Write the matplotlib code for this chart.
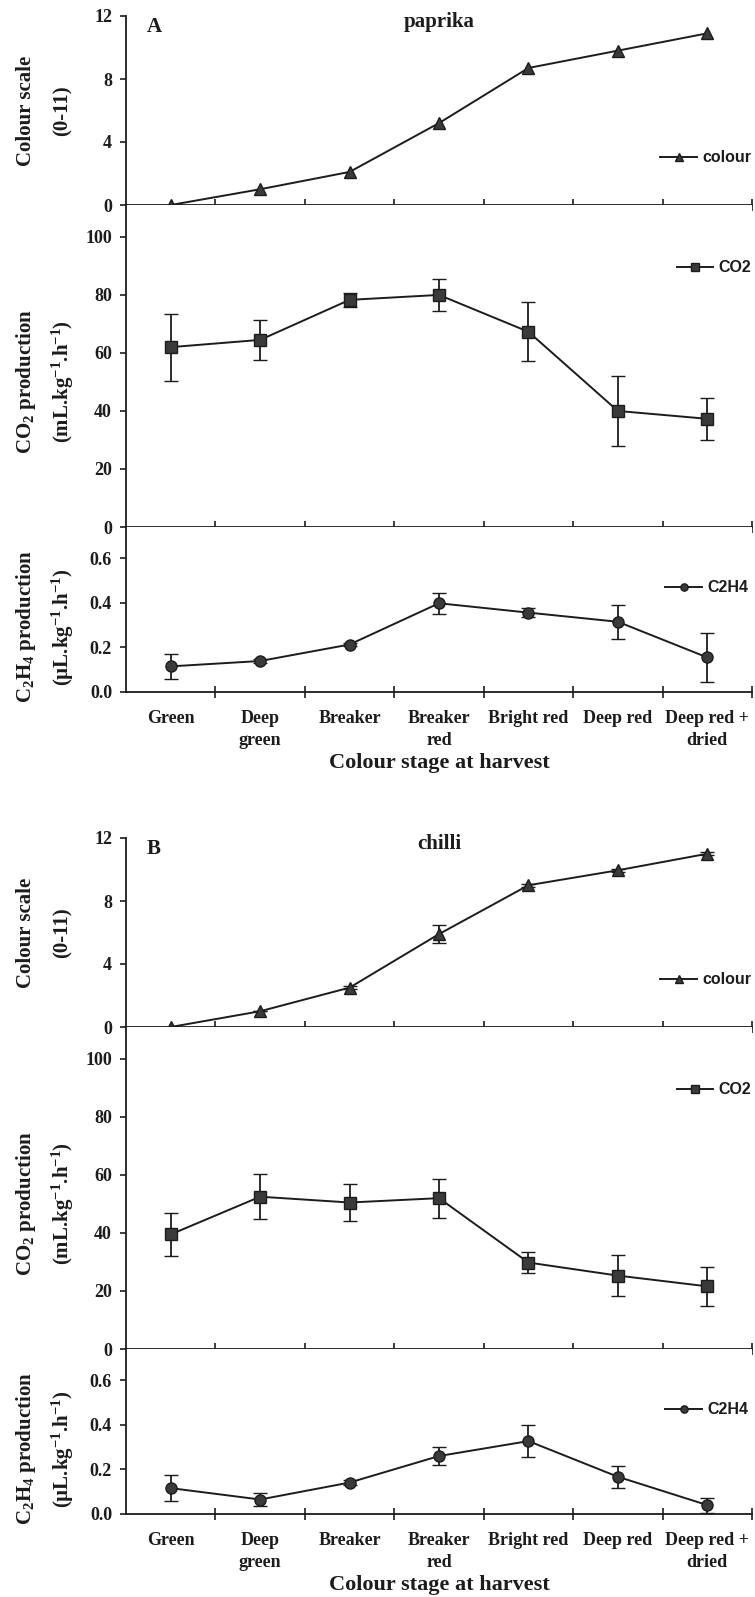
import numpy as np
import matplotlib
matplotlib.use('Agg')
import matplotlib.pyplot as plt
from matplotlib.lines import Line2D

stages = ['Green', 'Deep\ngreen', 'Breaker', 'Breaker\nred', 'Bright red',
          'Deep red', 'Deep red +\ndried']

# paprika
paprika_colour = [0.0, 1.0, 2.1, 5.2, 8.7, 9.8, 10.9]
paprika_co2 = [62.0, 64.5, 78.3, 80.0, 67.3, 40.0, 37.3]
paprika_co2_err = [11.5, 7.0, 2.5, 5.6, 10.2, 12.1, 7.3]
paprika_c2h4 = [0.115, 0.139, 0.213, 0.398, 0.356, 0.315, 0.155]
paprika_c2h4_err = [0.057, 0.010, 0.005, 0.048, 0.020, 0.077, 0.110]

# chilli
chilli_colour = [0.0, 1.0, 2.5, 5.9, 9.0, 9.95, 11.0]
chilli_colour_err = [0.0, 0.0, 0.1, 0.55, 0.1, 0.1, 0.1]
chilli_co2 = [39.5, 52.5, 50.5, 52.0, 29.8, 25.3, 21.6]
chilli_co2_err = [7.5, 7.8, 6.3, 6.7, 3.7, 7.0, 6.7]
chilli_c2h4 = [0.116, 0.065, 0.141, 0.260, 0.327, 0.167, 0.040]
chilli_c2h4_err = [0.057, 0.027, 0.010, 0.039, 0.070, 0.050, 0.034]

W, H = 755, 1597
INK = '#1c1c1c'
SERIF = 'Liberation Serif'
SANS = 'Liberation Sans'

plt.rcParams['mathtext.fontset'] = 'custom'
plt.rcParams['mathtext.rm'] = 'Liberation Serif:bold'
plt.rcParams['mathtext.it'] = 'Liberation Serif:bold'
plt.rcParams['mathtext.bf'] = 'Liberation Serif:bold'
plt.rcParams['mathtext.default'] = 'rm'

fig = plt.figure(figsize=(W / 100, H / 100), dpi=100)
x = np.arange(len(stages)) + 0.5


def rect(top, bot, left=126, right=752):
    return [left / W, 1 - bot / H, (right - left) / W, (bot - top) / H]


def fx(px):
    return px / W


def fy(py):
    return 1 - py / H


def ylabel(lines, yc):
    # two-line rotated label, each line placed on its own
    for xc, s in zip((26, 63), lines):
        fig.text(fx(xc), fy(yc), s, rotation=90, ha='center', va='center',
                 fontfamily=SERIF, fontweight='bold', fontsize=15, color=INK)


def style_axis(ax, ylim, yticks, yfmt, show_labels):
    ax.set_xlim(0, 7)
    ax.set_ylim(*ylim)
    for s in ['top', 'right']:
        ax.spines[s].set_visible(False)
    for s in ['left', 'bottom']:
        ax.spines[s].set_color(INK)
        ax.spines[s].set_linewidth(1.3)
    ax.set_xticks(np.arange(1, 8))
    ax.set_xticklabels([])
    ax.tick_params(axis='x', which='major', direction='inout', length=9,
                   width=1.2, color=INK)
    ax.set_yticks(yticks)
    ax.set_yticklabels([yfmt.format(v) for v in yticks], fontfamily=SERIF,
                       fontweight='bold', fontsize=13, color=INK)
    ax.tick_params(axis='y', direction='out', length=4, width=1.2, color=INK,
                   pad=6)
    if show_labels:
        ax.set_xticks(x, minor=True)
        ax.set_xticklabels(stages, minor=True, fontfamily=SERIF,
                           fontweight='bold', fontsize=13, color=INK,
                           linespacing=1.4, va='top')
        ax.tick_params(axis='x', which='minor', length=0, pad=13)
        ax.set_xlabel('Colour stage at harvest', fontfamily=SERIF,
                      fontweight='bold', fontsize=16, color=INK, labelpad=3)


def series(ax, vals, err, marker, ms, label, leg_y, leg_right=751):
    ax.errorbar(x, vals, yerr=err, color=INK, lw=1.4, marker=marker, ms=ms,
                mfc='#3a3a3a', mec=INK, mew=1.0, ecolor=INK, elinewidth=1.3,
                capsize=5, capthick=1.3)
    handle = Line2D([], [], color=INK, lw=1.4, marker=marker, ms=ms * 0.65,
                    mfc='#3a3a3a', mec=INK)
    leg = ax.legend([handle], [label], loc='center right',
                    bbox_to_anchor=(fx(leg_right), fy(leg_y)),
                    bbox_transform=fig.transFigure, frameon=False,
                    handlelength=2.3, handletextpad=0.3, borderpad=0,
                    borderaxespad=0,
                    prop={'family': SANS, 'weight': 'bold', 'size': 11.5})
    for t in leg.get_texts():
        t.set_color(INK)


def panel(off, letter, name, colour, colour_err, co2, co2_err, c2h4, c2h4_err):
    ax1 = fig.add_axes(rect(16 + off, 205 + off))
    ax2 = fig.add_axes(rect(205 + off, 527 + off))
    ax3 = fig.add_axes(rect(527 + off, 692 + off))

    series(ax1, colour, colour_err, '^', 9, 'colour', 158 + off)
    style_axis(ax1, (0, 12), [0, 4, 8, 12], '{:.0f}', False)
    ylabel(['Colour scale', '(0-11)'], 111 + off)

    series(ax2, co2, co2_err, 's', 8, 'CO2', 268 + off)
    style_axis(ax2, (0, 111), [0, 20, 40, 60, 80, 100], '{:.0f}', False)
    ylabel(['CO$_2$ production', '(mL.kg$^{-1}$.h$^{-1}$)'], 382 + off)

    series(ax3, c2h4, c2h4_err, 'o', 8, 'C2H4', 588 + off, leg_right=748)
    style_axis(ax3, (0, 0.74), [0.0, 0.2, 0.4, 0.6], '{:.1f}', True)
    ylabel(['C$_2$H$_4$ production', '(µL.kg$^{-1}$.h$^{-1}$)'], 627 + off)

    fig.text(fx(147), fy(27 + off), letter, fontfamily=SERIF, fontweight='bold',
             fontsize=15, color=INK, ha='left', va='center')
    fig.text(fx(439), fy(22 + off), name, fontfamily=SERIF, fontweight='bold',
             fontsize=15, color=INK, ha='center', va='center')


panel(0, 'A', 'paprika', paprika_colour, None, paprika_co2, paprika_co2_err,
      paprika_c2h4, paprika_c2h4_err)
panel(822, 'B', 'chilli', chilli_colour, chilli_colour_err, chilli_co2,
      chilli_co2_err, chilli_c2h4, chilli_c2h4_err)

fig.savefig('out.png', dpi=100, facecolor='white')
